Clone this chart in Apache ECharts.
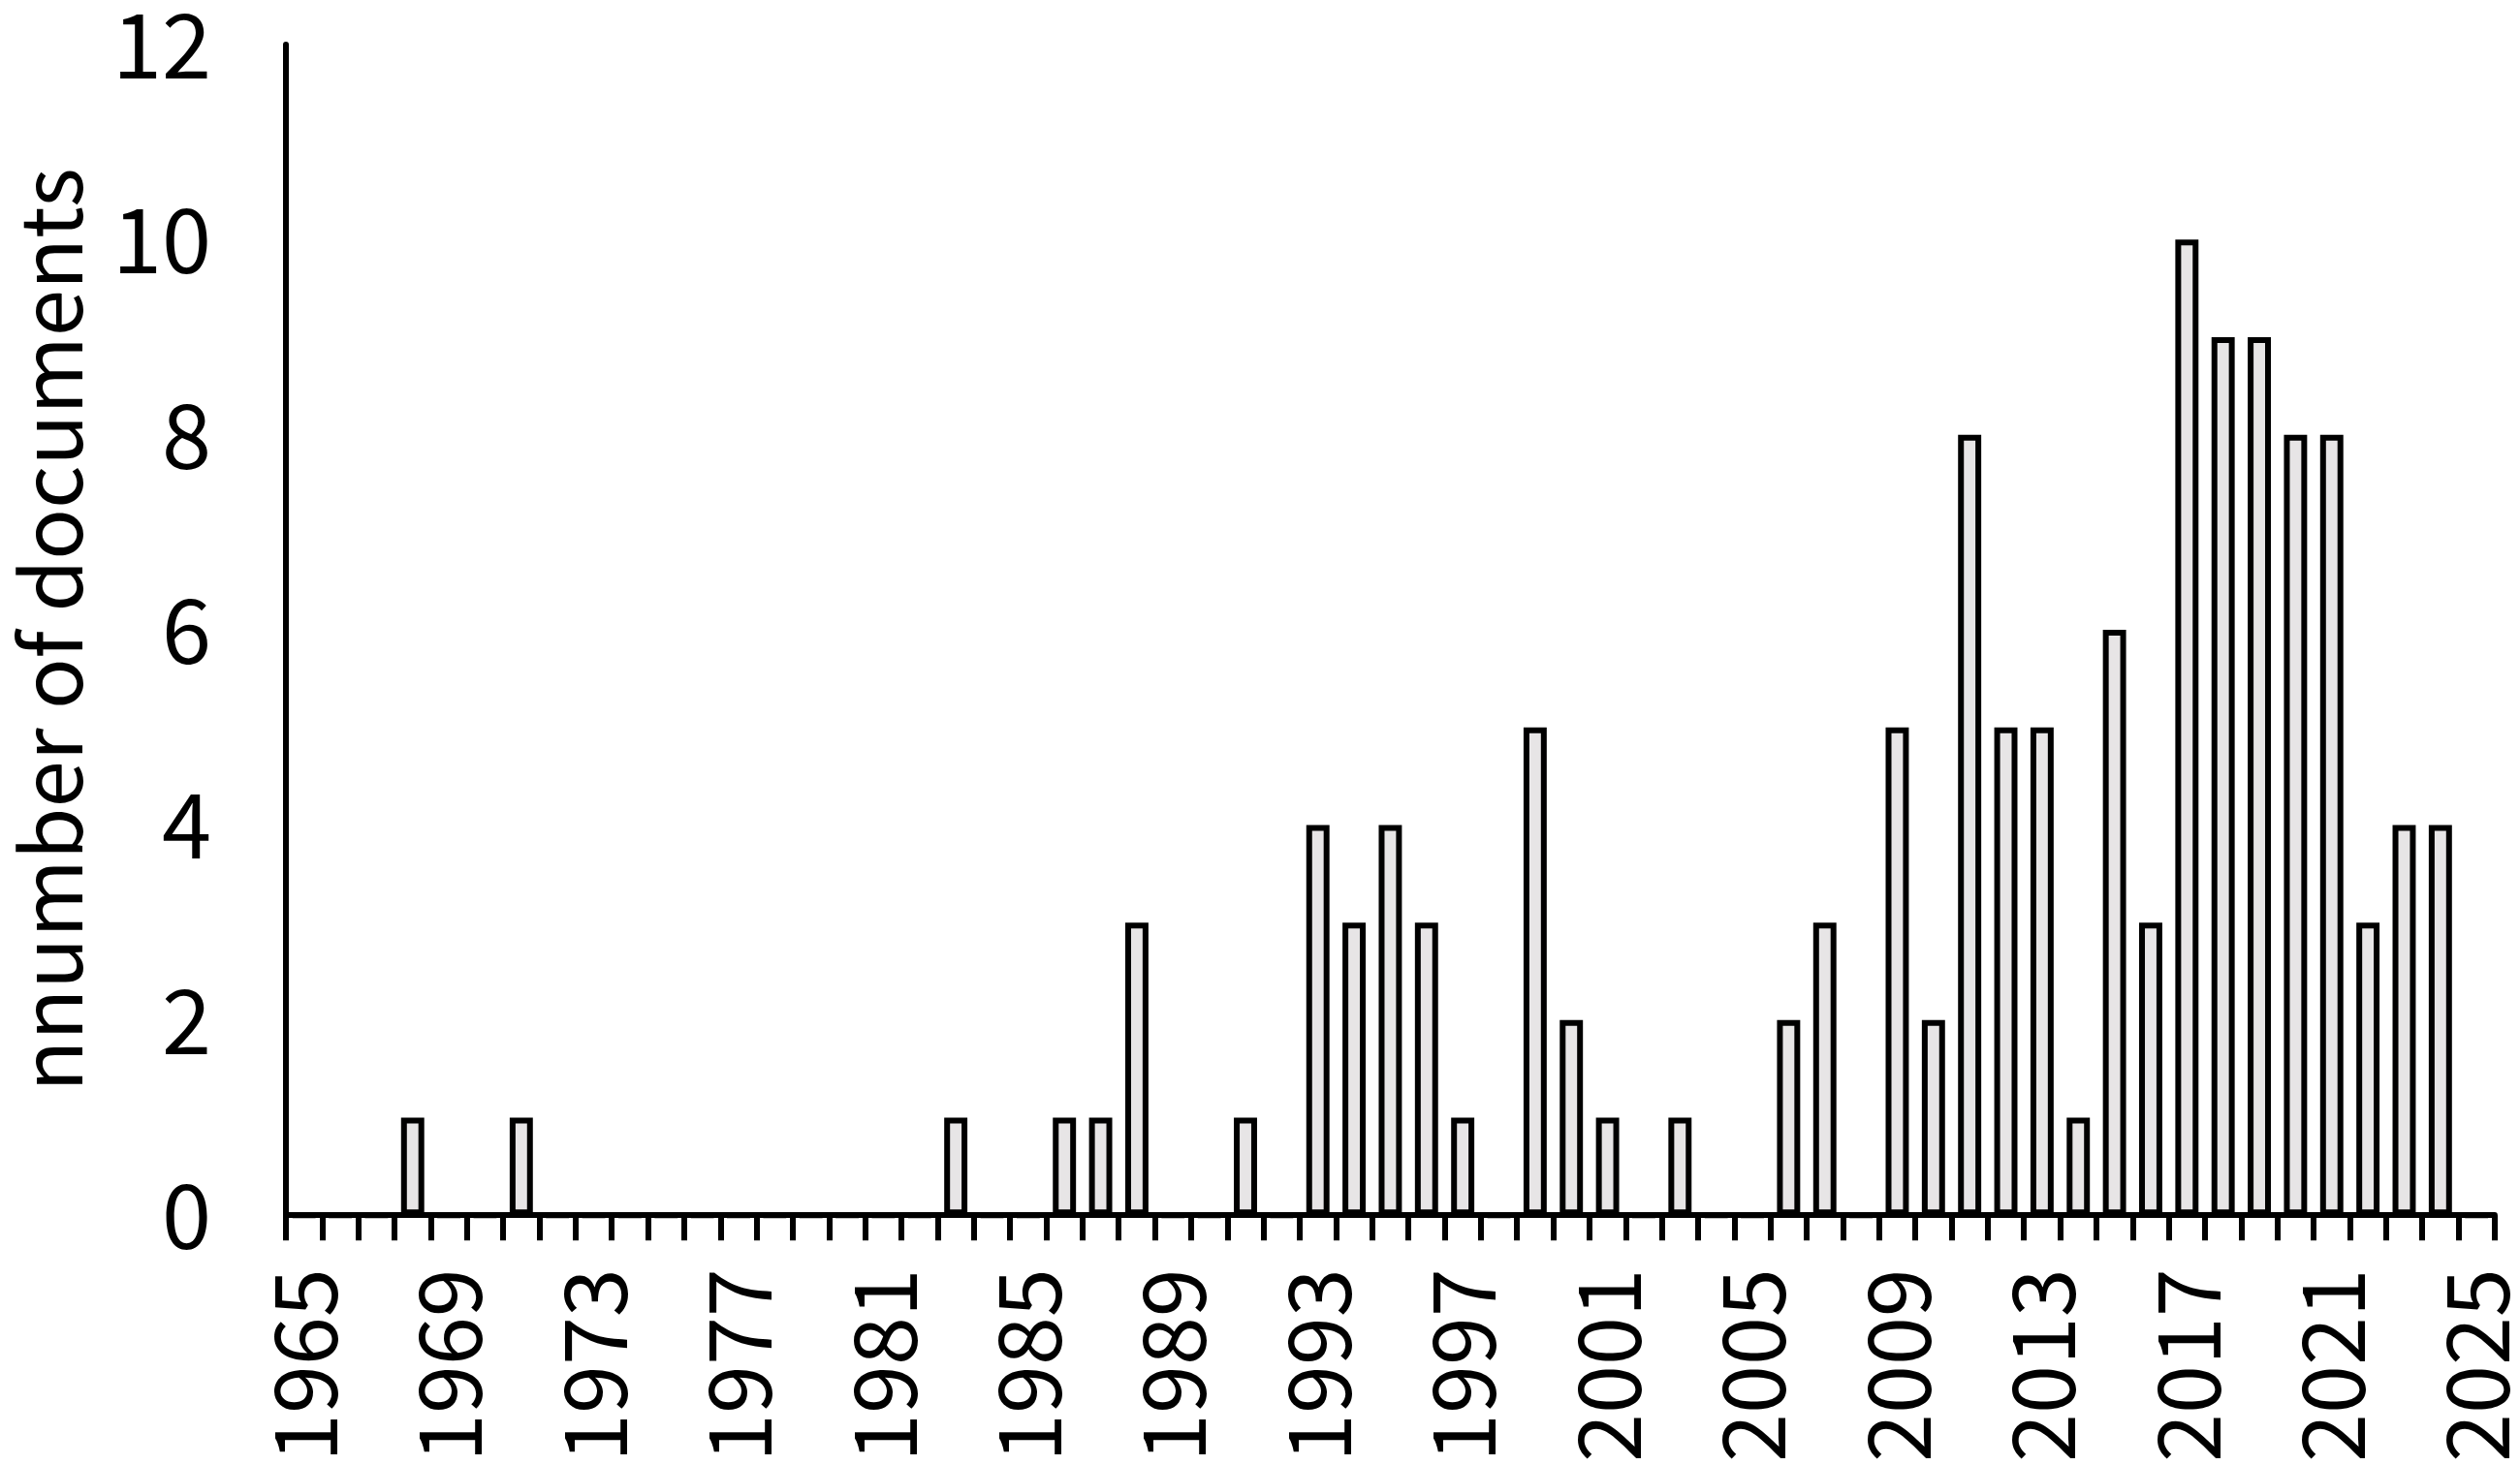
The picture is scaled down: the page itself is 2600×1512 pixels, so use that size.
<!DOCTYPE html>
<html>
<head>
<meta charset="utf-8">
<script src="https://cdn.jsdelivr.net/npm/echarts@6/dist/echarts.min.js"></script>
<style>
html,body{margin:0;padding:0;background:#fff;}
#c{width:2600px;height:1512px;}
</style>
</head>
<body>
<div id="c"></div>
<script>
const years = ['1965','1966','1967','1968','1969','1970','1971','1972','1973','1974',
  '1975','1976','1977','1978','1979','1980','1981','1982','1983','1984',
  '1985','1986','1987','1988','1989','1990','1991','1992','1993','1994',
  '1995','1996','1997','1998','1999','2000','2001','2002','2003','2004',
  '2005','2006','2007','2008','2009','2010','2011','2012','2013','2014',
  '2015','2016','2017','2018','2019','2020','2021','2022','2023','2024','2025'];
const documents = [0,0,0,1,0,0,1,0,0,0,
  0,0,0,0,0,0,0,0,1,0,
  0,1,1,3,0,0,1,0,4,3,
  4,3,1,0,5,2,1,0,1,0,
  0,2,3,0,5,2,8,5,5,1,
  6,3,10,9,9,8,8,3,4,4,0];
const yTitle = 'nnumber of documents';

const FONT = '"Noto Sans CJK SC", "Noto Sans", sans-serif';
const chart = echarts.init(document.getElementById('c'), null, {renderer: 'canvas'});
chart.setOption({
  animation: false,
  backgroundColor: '#ffffff',
  grid: {left: 280, right: 17, top: 42, bottom: 246, containLabel: false},
  xAxis: {
    type: 'category',
    data: years,
    boundaryGap: true,
    axisLine: {show: true, lineStyle: {color: '#000', width: 6}},
    axisTick: {show: true, interval: 0, length: 26, lineStyle: {color: '#000', width: 6}},
    axisLabel: {interval: 3, rotate: 90, margin: 55, color: '#000', fontSize: 90, fontFamily: FONT},
    splitLine: {show: false}
  },
  yAxis: {
    type: 'value',
    min: 0, max: 12, interval: 2,
    name: yTitle,
    nameLocation: 'middle',
    nameRotate: 90,
    nameGap: 200,
    nameTextStyle: {color: '#000', fontSize: 87, fontFamily: FONT},
    axisLine: {show: true, lineStyle: {color: '#000', width: 6}},
    axisTick: {show: false},
    axisLabel: {margin: 77, color: '#000', fontSize: 92, fontFamily: FONT},
    splitLine: {show: false}
  },
  series: [{
    type: 'bar',
    data: documents,
    barWidth: '64%',
    itemStyle: {color: '#e7e5e6', borderColor: '#000', borderWidth: 6}
  }]
});
</script>
</body>
</html>
